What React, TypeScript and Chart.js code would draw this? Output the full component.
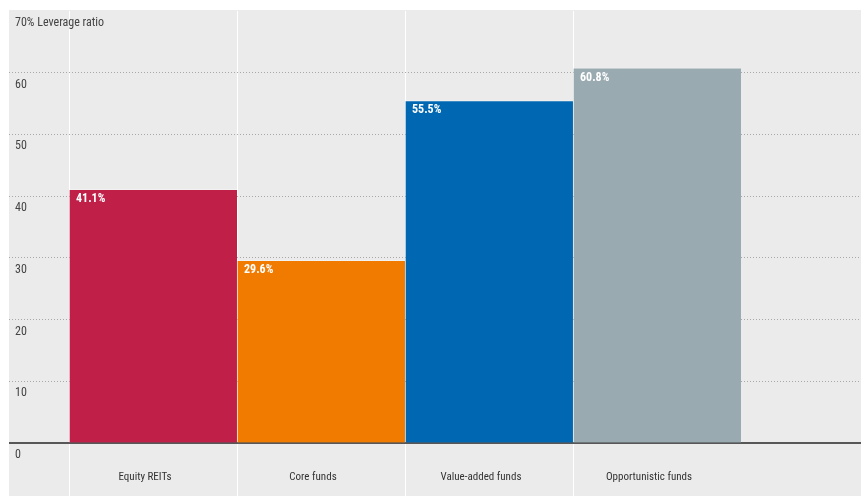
import React, { useEffect, useRef } from "react";
import { Chart, registerables } from "chart.js";

Chart.register(...registerables);

const categories = ["Equity REITs", "Core funds", "Value-added funds", "Opportunistic funds"];
const leverage = [41.1, 29.6, 55.5, 60.8];
const barColors = ["#c01f48", "#f07b00", "#0068b2", "#99aab1"];
const yTicks = [0, 10, 20, 30, 40, 50, 60, 70];
const yTopLabel = "70% Leverage ratio";

const FONT = "'Roboto Condensed', 'DejaVu Sans Condensed', sans-serif";

const valueLabels = {
  id: "valueLabels",
  afterDatasetsDraw(chart: any) {
    const ctx = chart.ctx;
    const meta = chart.getDatasetMeta(0);
    ctx.save();
    ctx.fillStyle = "#ffffff";
    ctx.font = `bold 12px ${FONT}`;
    ctx.textAlign = "left";
    ctx.textBaseline = "middle";
    meta.data.forEach((bar: any, i: number) => {
      const left = bar.x - bar.width / 2;
      ctx.fillText(leverage[i].toFixed(1) + "%", left + 7, bar.y + 10);
    });
    ctx.restore();
  },
};

export default function App() {
  const ref = useRef<HTMLCanvasElement | null>(null);

  useEffect(() => {
    if (!ref.current) return;
    const data = leverage.map((v, i) => ({ x: i, y: v }));
    const chart = new Chart(ref.current, {
      type: "bar",
      data: {
        datasets: [
          {
            data,
            backgroundColor: barColors,
            borderColor: "rgba(255,255,255,0.35)",
            borderWidth: { left: 1, top: 1, right: 0, bottom: 0 },
            borderSkipped: false,
            barPercentage: 1,
            categoryPercentage: 1,
          } as any,
        ],
      },
      plugins: [valueLabels],
      options: {
        responsive: false,
        animation: false,
        layout: { padding: { top: 1, left: 0, right: 0, bottom: 0 } },
        plugins: { legend: { display: false }, tooltip: { enabled: false } },
        scales: {
          x: {
            type: "linear",
            offset: false,
            min: -0.5 - 60 / 168,
            max: 3.5 + 120 / 168,
            afterBuildTicks(scale: any) {
              scale.ticks = categories.map((_, i) => ({ value: i - 0.5 }));
            },
            afterFit(scale: any) {
              scale.height = 53;
              scale.paddingLeft = 0;
              scale.paddingRight = 0;
            },
            grid: {
              offset: false,
              color: "#ffffff",
              lineWidth: 1,
              drawTicks: true,
              tickLength: 53,
              tickColor: "#ffffff",
            },
            border: { display: true, color: "#575757", width: 2 },
            ticks: {
              autoSkip: false,
              maxRotation: 0,
              labelOffset: 76,
              padding: -25,
              color: "#333333",
              font: { family: FONT, size: 11 },
              callback: (value: any) => {
                const idx = Math.round(Number(value) + 0.5);
                return categories[idx] ?? "";
              },
            },
          },
          y: {
            min: 0,
            max: 70,
            afterBuildTicks(scale: any) {
              scale.ticks = yTicks.map((v) => ({ value: v }));
            },
            afterFit(scale: any) {
              scale.width = 0;
              scale.paddingTop = 0;
              scale.paddingBottom = 0;
            },
            grid: {
              color: (c: any) => (c.tick && c.tick.value === 70 ? "rgba(0,0,0,0)" : "#a8a8a8"),
              lineWidth: 1,
              drawTicks: false,
            },
            border: { display: false, dash: [1, 2] },
            ticks: {
              mirror: true,
              padding: 6,
              labelOffset: 12,
              color: "#444444",
              font: { family: FONT, size: 12 },
              callback: (value: any) => (Number(value) === 70 ? yTopLabel : String(value)),
            },
          },
        },
      },
    } as any);
    return () => chart.destroy();
  }, []);

  return (
    <div style={{ position: "absolute", left: 9, top: 10, width: 852, height: 486, background: "#ebebeb" }}>
      <canvas ref={ref} width={852} height={486} style={{ display: "block" }} />
    </div>
  );
}
